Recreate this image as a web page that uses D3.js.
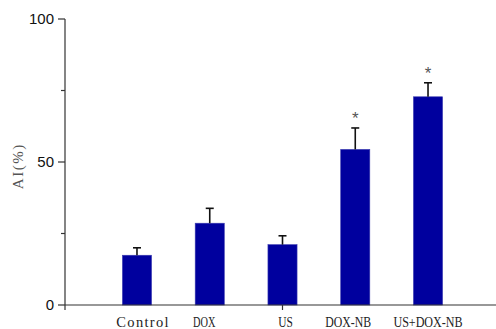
<!DOCTYPE html>
<html>
<head>
<meta charset="utf-8">
<script src="https://cdn.jsdelivr.net/npm/d3@7"></script>
<style>
  html, body { margin: 0; padding: 0; background: #fff; }
  svg { display: block; }
</style>
</head>
<body>
<svg id="chart" width="496" height="329"></svg>
<script>
// Apoptosis index (%) per treatment group, mean with SD
const categories = ["Control", "DOX", "US", "DOX-NB", "US+DOX-NB"];
const means = [17.4, 28.6, 21.1, 54.4, 72.8];
const errors = [2.6, 5.2, 3.1, 7.5, 4.9];
const significant = [false, false, false, true, true];
const yTicks = [0, 50, 100];
const yMinorTicks = [25, 75];
const yLabel = "AI(%)";

const svg = d3.select("#chart");
const axisColor = "#333";
const serif = "Liberation Serif, 'DejaVu Serif', serif";

const y = d3.scaleLinear().domain([0, 100]).range([305, 19]);
const x = d3.scaleBand().domain(categories).range([100.6, 464.4]).paddingInner(0.6).paddingOuter(0.3);

// small horizontal nudges for the category labels
const labelShift = [5.5, -5.5, 3, -7, 0];

// fit a text element to a fixed-pitch width: widen with letter spacing, narrow by compressing glyphs
function fitPitch(sel, pitch) {
  sel.each(function (d) {
    const t = d3.select(this);
    const s = t.text();
    const target = s.length * pitch - 1;
    const natural = this.getComputedTextLength();
    if (natural < target) {
      const ls = (target - natural) / s.length;
      t.attr("letter-spacing", ls).attr("dx", ls / 2);
    } else {
      t.attr("textLength", target).attr("lengthAdjust", "spacingAndGlyphs");
    }
  });
}

// bars
svg.append("g").selectAll("rect")
  .data(categories)
  .join("rect")
  .attr("x", d => x(d))
  .attr("width", x.bandwidth())
  .attr("y", (d, i) => y(means[i]))
  .attr("height", (d, i) => y(0) - y(means[i]))
  .attr("fill", "#00009e")
  .attr("stroke", "#3a3ab0")
  .attr("stroke-width", 0.6);

// error bars (upper only)
const eb = svg.append("g").attr("stroke", "#111").attr("stroke-width", 1.6);
categories.forEach((c, i) => {
  const cx = x(c) + x.bandwidth() / 2;
  eb.append("line").attr("x1", cx).attr("x2", cx)
    .attr("y1", y(means[i])).attr("y2", y(means[i] + errors[i]));
  eb.append("line").attr("x1", cx - 4).attr("x2", cx + 4)
    .attr("y1", y(means[i] + errors[i])).attr("y2", y(means[i] + errors[i]));
  if (significant[i]) {
    svg.append("text")
      .attr("x", cx).attr("y", y(means[i] + errors[i]) - 4)
      .attr("text-anchor", "middle")
      .attr("font-family", "Liberation Sans, sans-serif")
      .attr("font-size", 17)
      .attr("fill", "#555")
      .text("*");
  }
});

// y axis
const yAxis = svg.append("g").attr("transform", "translate(65,0)");
yAxis.append("line").attr("x1", 0).attr("x2", 0).attr("y1", y(100)).attr("y2", 310)
  .attr("stroke", axisColor).attr("stroke-width", 1.2);
yAxis.selectAll(".major").data(yTicks).join("line")
  .attr("x1", -7).attr("x2", 0).attr("y1", d => y(d)).attr("y2", d => y(d))
  .attr("stroke", axisColor).attr("stroke-width", 1.2);
yAxis.selectAll(".minor").data(yMinorTicks).join("line")
  .attr("x1", -4).attr("x2", 0).attr("y1", d => y(d)).attr("y2", d => y(d))
  .attr("stroke", axisColor).attr("stroke-width", 1.2);
yAxis.selectAll("text").data(yTicks).join("text")
  .attr("x", -11).attr("y", d => y(d)).attr("dy", "0.36em")
  .attr("text-anchor", "end")
  .attr("font-family", "Liberation Sans, Arial, sans-serif")
  .attr("font-size", 15)
  .attr("fill", "#111")
  .text(d => d);

// y axis title
svg.append("text")
  .attr("transform", "translate(23,167) rotate(-90)")
  .attr("text-anchor", "middle")
  .attr("font-family", serif)
  .attr("font-size", 15)
  .attr("fill", "#555")
  .text(yLabel)
  .call(fitPitch, 9.4);

// x axis
svg.append("line").attr("x1", 65).attr("x2", 496).attr("y1", y(0)).attr("y2", y(0))
  .attr("stroke", axisColor).attr("stroke-width", 1.2);
svg.append("line").attr("x1", 282.5).attr("x2", 282.5).attr("y1", y(0)).attr("y2", 310)
  .attr("stroke", axisColor).attr("stroke-width", 1.2);

// category labels
svg.append("g").selectAll("text").data(categories).join("text")
  .attr("x", (d, i) => x(d) + x.bandwidth() / 2 + labelShift[i])
  .attr("y", 327)
  .attr("text-anchor", "middle")
  .attr("font-family", serif)
  .attr("font-size", 14.5)
  .attr("fill", "#222")
  .text(d => d)
  .call(fitPitch, 7.8);
</script>
</body>
</html>
